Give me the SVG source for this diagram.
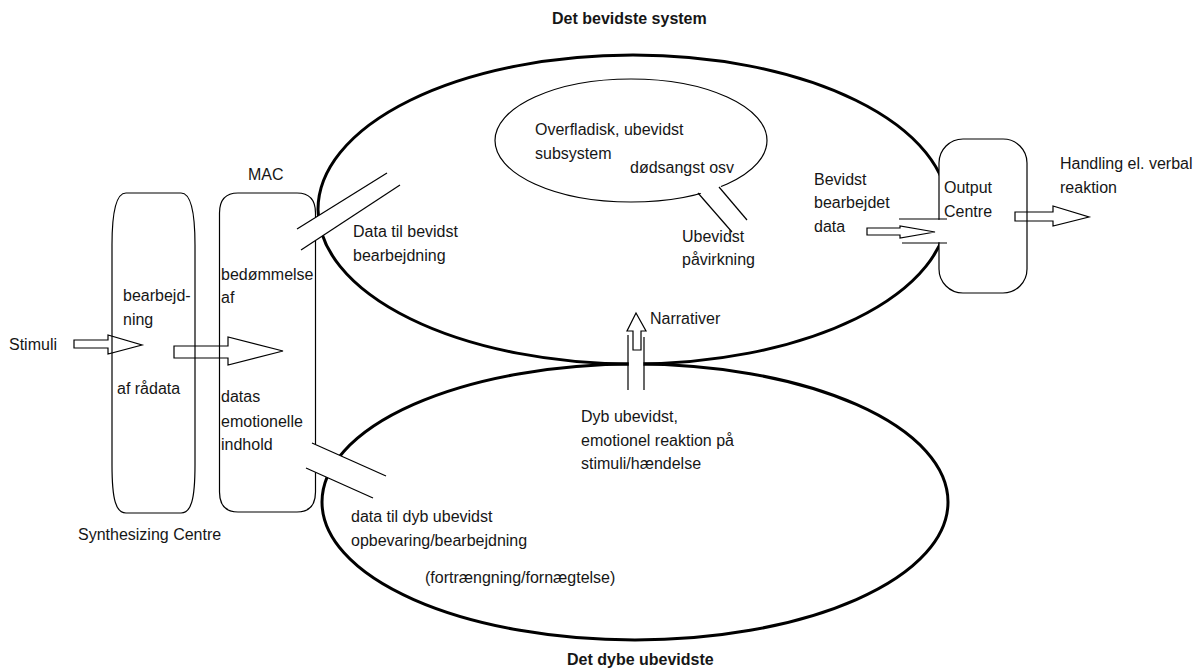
<svg xmlns="http://www.w3.org/2000/svg" width="1201" height="670" viewBox="0 0 1201 670">
<style>
  text { font-family: "Liberation Sans", Arial, sans-serif; font-size: 16px; fill: #161616; }
  .title { font-weight: bold; font-size: 16px; }
  .thick { fill: none; stroke: #000; stroke-width: 3; }
  .thin { fill: none; stroke: #000; stroke-width: 1.2; }
  .box { fill: #fff; stroke: #000; stroke-width: 1.2; }
  .cut { fill: #fff; stroke: none; }
  .arrow { fill: none; stroke: #000; stroke-width: 1.2; stroke-linejoin: miter; }
  .arrowW { fill: #fff; stroke: #000; stroke-width: 1.2; }
</style>
<rect x="0" y="0" width="1201" height="670" fill="#fff"/>

<!-- large ellipses -->
<g id="conscious-system">
  <ellipse class="thick" cx="633" cy="209.5" rx="315" ry="154.5"/>
</g>
<g id="deep-unconscious">
  <ellipse class="thick" cx="635" cy="502" rx="313" ry="138"/>
</g>
<g id="surface-subsystem">
  <ellipse class="thin" cx="631" cy="140.5" rx="136" ry="61.5"/>
</g>

<!-- synthesizing centre -->
<g id="synthesizing-centre">
  <path class="thin" d="M 126,193 H 181 C 191,193 195,212 195,245 V 465 C 195,500 191,513 181,513 H 126 C 116,513 112,500 112,465 V 245 C 112,212 116,193 126,193 Z"/>
</g>

<!-- MAC -->
<g id="mac">
  <path class="thin" d="M 315.5,217 V 213 Q 315.5,193 297,193 H 238 Q 219.5,193 219.5,213 V 492 Q 219.5,512 238,512 H 297 Q 315.5,512 315.5,492 V 472"/>
  <line class="thin" x1="315.5" y1="241" x2="315.5" y2="444"/>
</g>

<!-- Output centre -->
<g id="output-centre">
  <rect class="box" x="939" y="139" width="88" height="154" rx="24" ry="24"/>
</g>

<!-- connectors -->
<g id="connectors">
  <!-- upper channel MAC -> conscious -->
  <polygon class="cut" points="297,229 387,173 400,185 301,250"/>
  <line class="thin" x1="297" y1="229" x2="387" y2="173"/>
  <line class="thin" x1="301" y1="250" x2="400" y2="185"/>
  <!-- lower channel MAC -> deep -->
  <polygon class="cut" points="312,443 386,476 373,498 306,468"/>
  <line class="thin" x1="312" y1="443" x2="386" y2="476"/>
  <line class="thin" x1="306" y1="468" x2="373" y2="498"/>
  <!-- callout from subsystem -->
  <polygon class="cut" points="698,190 719,184 747,220 732,232"/>
  <line class="thin" x1="698" y1="193" x2="732" y2="232"/>
  <line class="thin" x1="719" y1="187" x2="747" y2="220"/>
  <!-- output channel -->
  <rect class="cut" x="899" y="219.8" width="49" height="22.4"/>
  <line class="thin" x1="899" y1="219" x2="947" y2="219"/>
  <line class="thin" x1="902" y1="243" x2="947" y2="243"/>
  <!-- narrativer channel -->
  <rect class="cut" x="628.8" y="352" width="14.6" height="24"/>
  <line class="thin" x1="628" y1="335" x2="628" y2="390"/>
  <line class="thin" x1="644" y1="337" x2="644" y2="390"/>
  <polygon class="arrowW" points="633,350 633,331 627,331 636,313 646,331 641,331 641,350"/>
  <!-- block arrows -->
  <polygon class="arrow" points="74,340 108,340 108,335 142,345 108,354 108,348 74,348"/>
  <polygon class="arrow" points="174,346 228,346 228,337 283,351 228,365 228,358 174,358"/>
  <polygon class="arrow" points="867,228 900,228 900,226 935,232 900,238 900,235 867,235"/>
  <polygon class="arrow" points="1015,212 1053,212 1053,206 1089,217 1053,226 1053,221 1015,221"/>
</g>

<!-- labels -->
<g id="labels">
  <text class="title" x="552" y="24">Det bevidste system</text>
  <text class="title" x="567" y="665">Det dybe ubevidste</text>
  <text x="248" y="180">MAC</text>
  <text x="9" y="350">Stimuli</text>
  <text x="123" y="301">bearbejd-</text>
  <text x="123" y="325">ning</text>
  <text x="117" y="394">af rådata</text>
  <text x="221" y="280">bedømmelse</text>
  <text x="221" y="303">af</text>
  <text x="221" y="402">datas</text>
  <text x="221" y="427">emotionelle</text>
  <text x="221" y="450">indhold</text>
  <text x="78" y="540">Synthesizing Centre</text>
  <text x="353" y="237">Data til bevidst</text>
  <text x="353" y="261">bearbejdning</text>
  <text x="535" y="135">Overfladisk, ubevidst</text>
  <text x="535" y="159">subsystem</text>
  <text x="630" y="173">dødsangst osv</text>
  <text x="682" y="242">Ubevidst</text>
  <text x="682" y="265">påvirkning</text>
  <text x="650" y="324">Narrativer</text>
  <text x="814" y="185">Bevidst</text>
  <text x="814" y="208">bearbejdet</text>
  <text x="814" y="232">data</text>
  <text x="944" y="193">Output</text>
  <text x="944" y="217">Centre</text>
  <text x="1060" y="169">Handling el. verbal</text>
  <text x="1060" y="193">reaktion</text>
  <text x="581" y="422">Dyb ubevidst,</text>
  <text x="581" y="446">emotionel reaktion på</text>
  <text x="581" y="469">stimuli/hændelse</text>
  <text x="351" y="522">data til dyb ubevidst</text>
  <text x="351" y="546">opbevaring/bearbejdning</text>
  <text x="425" y="583">(fortrængning/fornægtelse)</text>
</g>
</svg>
